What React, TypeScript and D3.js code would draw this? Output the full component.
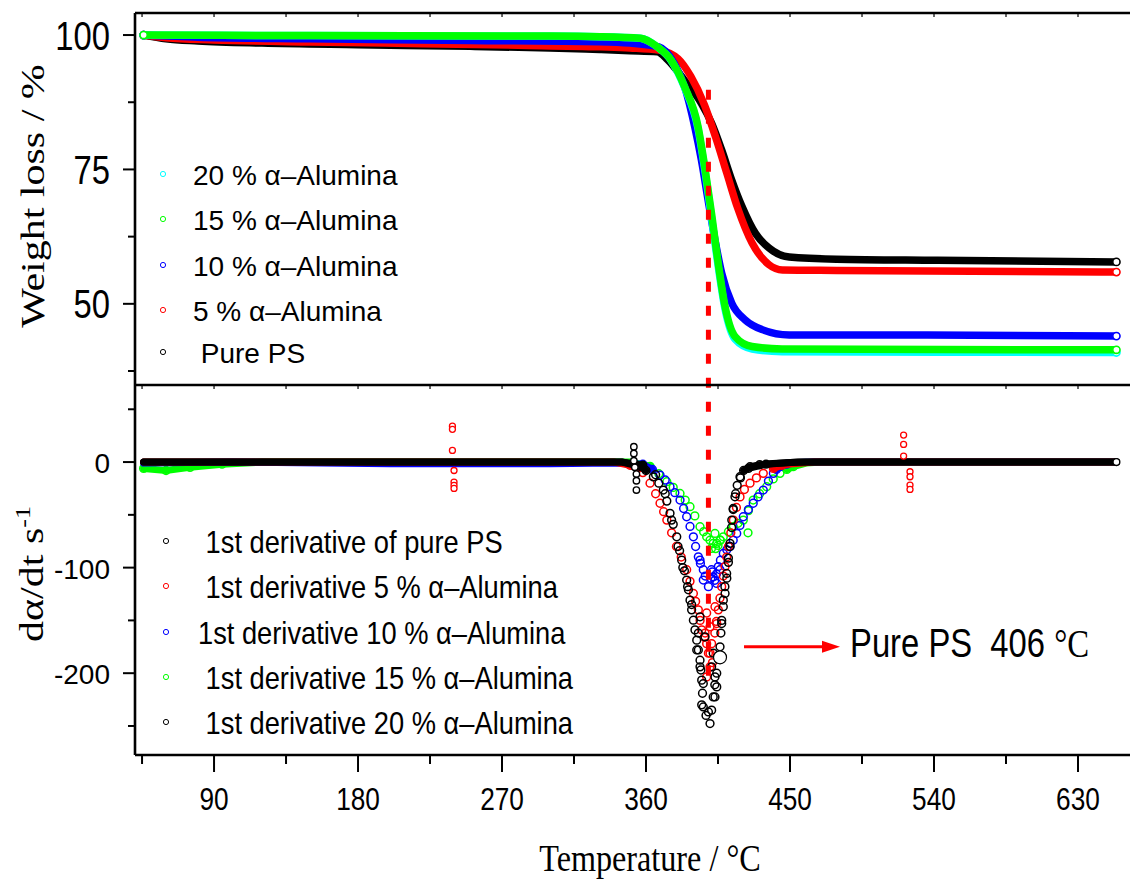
import React from 'react';
import * as d3 from 'd3';

type Pt = [number, number];

const SANS = "'Liberation Sans', Arial, sans-serif";
const SERIF = "'Liberation Serif', 'Times New Roman', serif";

// ticks
const xMajor = [90, 180, 270, 360, 450, 540, 630];
const xMinor = [45, 135, 225, 315, 405, 495, 585];
const topMajor = [100, 75, 50];
const topMinor = [87.5, 62.5, 37.5];
const botMajor = [0, -100, -200];
const botMinor = [50, -50, -150, -250];

// TGA curves: [temperature, weight %]
const tgaPure: Pt[] = [
  [46, 100], [60, 99.3], [80, 98.9], [120, 98.5], [180, 98.2], [250, 97.9], [300, 97.6], [331, 97.3],
  [350, 97.1], [367, 96.9], [373.5, 95.4], [384, 91.6], [394.6, 87.3], [401, 83.6], [407.3, 78.6],
  [413.6, 73.0], [420, 68.1], [428.4, 63.1], [436.8, 60.4], [449.5, 58.7], [479, 58.3], [542, 58.1], [654, 57.8],
];
const tga5: Pt[] = [
  [46, 100], [60, 99.5], [90, 99.1], [150, 98.7], [220, 98.4], [280, 98.1], [331, 97.8], [350, 97.6],
  [368, 97.2], [380, 95.6], [388, 92.3], [396.5, 87.0], [403.5, 81.0], [410.5, 74.3], [417.3, 67.8],
  [426.3, 61.3], [436.8, 57.3], [445.3, 56.3], [479, 56.2], [654, 55.9],
];
const tga10: Pt[] = [
  [46, 100], [80, 99.6], [150, 99.3], [250, 99.0], [331, 98.75], [350, 98.5], [368, 97.8], [377.7, 94.7],
  [384.1, 90.4], [390.4, 83.0], [394.6, 76.8], [398.8, 69.3], [403.1, 61.9], [407.3, 55.7], [413.6, 50.1],
  [422, 47.0], [432.6, 45.2], [449.5, 44.2], [521, 44.2], [654, 44.0],
];
const tga15: Pt[] = [
  [46, 100], [150, 99.9], [300, 99.8], [331, 99.7], [356.6, 99.4], [367, 97.8], [375.6, 95.4], [384.1, 90.4],
  [392.5, 83.0], [396.7, 75.5], [400.9, 66.9], [405.1, 57.6], [409.4, 49.5], [415.7, 43.9], [426.3, 42.05],
  [445, 41.6], [654, 41.45],
];
const tga20: Pt[] = [
  [46, 100], [150, 99.9], [300, 99.8], [331, 99.7], [356.6, 99.4], [367, 97.8], [375.6, 95.3], [384.1, 90.2],
  [392.5, 82.6], [396.7, 75.0], [400.9, 66.2], [405.1, 57.0], [409.4, 49.0], [415.7, 43.4], [426.3, 41.6],
  [445, 41.1], [654, 40.95],
];

// first derivative: [temperature, dα/dt]
const dPure: Pt[] = [
  [46, 0], [100, 0], [200, 0], [300, 0], [345, 0], [356, -4], [360, -8], [364.6, -14], [368, -20], [370.8, -26.5],
  [373, -37], [375, -48.6], [377, -59], [379.2, -70.8], [381, -84], [382.3, -92.9], [384, -103], [385.4, -111.8],
  [386.5, -121], [387.5, -130.8], [388.5, -140], [389.6, -149.8], [390.6, -159], [391.7, -168.7], [392.7, -178],
  [393.75, -187.7], [394.3, -197], [394.8, -206.6], [395.3, -219], [395.8, -232], [397.5, -240], [400, -247.7],
  [401, -235], [402, -222.5], [403, -211], [404.2, -200], [405.3, -187], [406.25, -175], [406.8, -162],
  [407.3, -150], [408.3, -130.8], [409.3, -118], [410.4, -105.5], [411.5, -91], [412.5, -77], [413.6, -55],
  [414.5, -44], [415.6, -32.9], [417, -22], [418.75, -13.9], [421, -8], [425, -4.4], [431, -2.5], [439.4, -1.3],
  [450, -0.5], [460, 0], [550, 0], [654, 0],
];
const d5: Pt[] = [
  [46, 0], [150, 0], [300, 0], [340, 0], [350, -3], [355, -6], [358, -10], [362.5, -20], [366, -30], [368.75, -39],
  [371, -47], [373, -55], [376, -67], [379, -80], [382, -90], [385.4, -102], [387.5, -113], [389.6, -124.5],
  [391, -132], [392.7, -140], [393.8, -150], [394.8, -159], [396.9, -162], [396.5, -166], [397.9, -172],
  [397.9, -143], [400, -156], [399, -181], [397.9, -203.5], [400, -194], [401, -172], [400, -181], [401.5, -190],
  [404.2, -153], [403, -162], [403.1, -137], [404, -151], [405.2, -140], [406.2, -129], [407.3, -118],
  [408.3, -108], [409.4, -99], [410.4, -90], [411.5, -80], [413, -67], [414.6, -55], [416.5, -43], [418.75, -33],
  [421.5, -26], [425, -20], [429, -15], [433.3, -10.7], [439.6, -6], [445, -3], [452, -1.5], [465, 0], [560, 0], [654, 0],
];
const d10: Pt[] = [
  [46, -1], [100, 0], [200, -1.5], [300, -1.5], [340, -1], [350, -1.5], [358, -2], [364, -7], [368.75, -12.3],
  [372, -17], [375, -23.4], [378, -29], [381.25, -36], [383.5, -44], [385.4, -51.8], [387.5, -61], [389.6, -70.8],
  [391, -80], [392.7, -89.8], [393.75, -92.9], [394, -96], [395.8, -102], [395.8, -111.8], [397, -108], [399, -118],
  [400.9, -102], [400.5, -110], [401.5, -104], [402, -108.7], [403, -112], [404.2, -115], [404, -106],
  [405.2, -99], [406.25, -102], [406.5, -93], [408.3, -86.6], [410.5, -83], [412.5, -80], [414.5, -74],
  [416.7, -67.6], [418.7, -60], [420.8, -51.8], [424, -45], [427, -39], [430, -33], [433.3, -26.5], [436.5, -18],
  [439.6, -10.7], [441.5, -7], [443.75, -4.4], [448, -2], [455, -0.5], [465, 0], [560, 0], [654, 0],
];
const d15: Pt[] = [
  [46, -6], [60, -8], [75, -5], [95, -2], [120, 0], [200, 0], [300, 0], [350, 0], [362.5, -4], [368, -11],
  [373, -18.6], [377, -24], [381.25, -29.7], [384.5, -36], [387.5, -42.3], [390.5, -51], [393.75, -61.3],
  [396, -66], [397.9, -70.8], [400, -74], [400.9, -81.8], [402, -77], [403.1, -67.6], [403.5, -82], [404.2, -77],
  [405, -79], [406.25, -74], [406.5, -74], [408.3, -70.8], [411.5, -66], [414.6, -61.3], [417.5, -58],
  [420.8, -55], [423.75, -67], [424, -46], [427, -36], [431, -30], [435.4, -23.4], [439.5, -16], [443.75, -10.7],
  [448, -7], [452, -4.4], [460, -1], [470, 0], [550, 0], [654, 0],
];
const d20: Pt[] = [
  [46, 0], [150, 0], [250, 0], [345, 0], [358, -3], [366, -12], [372, -30], [376, -55], [380, -80], [383, -100],
  [386, -118], [388.5, -135], [393.75, -146.6], [392.7, -162], [391.7, -178], [393.75, -194], [395.8, -209.8],
  [394.8, -230], [399, -236.7], [403.1, -222.5], [404.2, -213], [403.1, -203.5], [401, -194], [402, -181],
  [396.9, -165.6], [407.3, -153], [408.3, -137], [409.4, -124.5], [410.5, -110], [411.5, -95], [412.5, -80],
  [413.5, -62], [414.5, -45], [416, -30], [419, -15], [424, -6], [435, -2], [455, 0], [560, 0], [654, 0],
];

// isolated spikes in the derivative records
const redSpikes: Pt[] = [
  [239, 34], [239, 31], [239, 11], [240, -8], [240, -19], [240, -22], [240, -25],
  [521, 25.6], [521, 16.7], [521, 5.7], [525, -9.2], [525, -13.9], [525, -21.8], [525, -25.9],
];
const blackSpikes: Pt[] = [
  [352.4, 14.5], [352.4, 8.2], [352.4, 1.3], [353, -5], [354, -11.4], [354, -17.7], [354, -26.5],
];

const peakMark: Pt = [406.25, -185];
const dashT = 399;

const topLegend = ['20 % α–Alumina', '15 % α–Alumina', '10 % α–Alumina', '5 % α–Alumina', ' Pure PS'];
const topLegendColors = ['#00ffff', '#00ff00', '#0000ff', '#ff0000', '#000000'];
const botLegend = [
  ' 1st derivative of pure PS',
  ' 1st derivative 5 % α–Alumina',
  '1st derivative 10 % α–Alumina',
  ' 1st derivative 15 % α–Alumina',
  ' 1st derivative 20 % α–Alumina',
];
const botLegendColors = ['#000000', '#ff0000', '#0000ff', '#00ff00', '#000000'];

const x = d3.scaleLinear().domain([40.6, 662.5]).range([135, 1130]);
const yTop = d3.scaleLinear().domain([34.9, 104.1]).range([385, 13]);
const yBot = d3.scaleLinear().domain([-277.5, 73]).range([755, 385]);

const tgaLine = d3.line<Pt>().x(d => x(d[0])).y(d => yTop(d[1])).curve(d3.curveMonotoneX);
const bandLine = d3.line<Pt>().defined(d => Math.abs(d[1]) <= 8).x(d => x(d[0])).y(d => yBot(d[1]));

const tgaSeries = [
  { data: tgaPure, color: '#000000' },
  { data: tga5, color: '#ff0000' },
  { data: tga10, color: '#0000ff' },
  { data: tga20, color: '#00ffff' },
  { data: tga15, color: '#00ff00' },
];
const derivSeries = [
  { data: d15, color: '#00ff00' },
  { data: d10, color: '#0000ff' },
  { data: d5, color: '#ff0000' },
  { data: d20, color: '#000000' },
  { data: dPure, color: '#000000' },
];

const Txt = ({ x, y, sx = 1, size, family = SANS, anchor = 'start', fill = '#000', children }: any) => (
  <text
    transform={`translate(${x},${y}) scale(${sx},1)`}
    fontSize={size}
    fontFamily={family}
    textAnchor={anchor}
    fill={fill}
    style={{ whiteSpace: 'pre' }}
  >
    {children}
  </text>
);

export default function App() {
  const axisW = 2.6;
  const x0 = x.range()[0];
  const x1 = x.range()[1];
  const allX = [...xMajor, ...xMinor];
  return (
    <svg width={1130} height={882} style={{ position: 'absolute', left: 0, top: 0, background: '#fff' }}>
      {/* TGA curves */}
      {tgaSeries.map((s, i) => (
        <g key={'t' + i}>
          <path d={tgaLine(s.data) || ''} fill="none" stroke={s.color} strokeWidth={7.5} strokeLinecap="round" strokeLinejoin="round" />
          {[s.data[0], s.data[s.data.length - 1]].map((d, j) => (
            <circle key={j} cx={x(d[0])} cy={yTop(d[1])} r={3.6} fill="#fff" stroke={s.color} strokeWidth={1.6} />
          ))}
        </g>
      ))}

      {/* derivative curves: baseline band + open circles off the baseline */}
      {derivSeries.map((s, i) => (
        <g key={'d' + i}>
          <path d={bandLine(s.data) || ''} fill="none" stroke={s.color} strokeWidth={7} strokeLinecap="round" />
          {s.data.filter(d => Math.abs(d[1]) > 1.6).map((d, j) => (
            <circle key={j} cx={x(d[0])} cy={yBot(d[1])} r={3.9} fill="none" stroke={s.color} strokeWidth={1.5} />
          ))}
        </g>
      ))}
      {redSpikes.map((d, j) => (
        <circle key={'rs' + j} cx={x(d[0])} cy={yBot(d[1])} r={3} fill="#fff" stroke="#ff0000" strokeWidth={1.3} />
      ))}
      {blackSpikes.map((d, j) => (
        <circle key={'bs' + j} cx={x(d[0])} cy={yBot(d[1])} r={3.2} fill="#fff" stroke="#000" strokeWidth={1.4} />
      ))}
      <circle cx={x(dPure[dPure.length - 1][0])} cy={yBot(0)} r={3.4} fill="#fff" stroke="#000" strokeWidth={1.4} />
      <circle cx={x(peakMark[0])} cy={yBot(peakMark[1])} r={6.5} fill="#fff" stroke="#000" strokeWidth={1.2} />

      {/* red dashed marker */}
      <line
        x1={x(dashT)} x2={x(dashT)} y1={yTop(89.8)} y2={yBot(-209)}
        stroke="#ff0000" strokeWidth={5} strokeDasharray="10 14"
      />

      {/* frame */}
      <line x1={x0} x2={x0} y1={13} y2={755} stroke="#000" strokeWidth={axisW} />
      <line x1={x0} x2={x1} y1={13} y2={13} stroke="#000" strokeWidth={axisW} />
      <line x1={x0} x2={x1} y1={385} y2={385} stroke="#000" strokeWidth={axisW} />
      <line x1={x0} x2={x1} y1={755} y2={755} stroke="#000" strokeWidth={axisW} />
      {allX.map(t => (
        <g key={'tt' + t}>
          <line x1={x(t)} x2={x(t)} y1={13} y2={17} stroke="#000" strokeWidth={1.2} />
          <line x1={x(t)} x2={x(t)} y1={385} y2={389} stroke="#000" strokeWidth={1.2} />
        </g>
      ))}

      {/* x axis */}
      {xMajor.map(t => (
        <g key={'xm' + t}>
          <line x1={x(t)} x2={x(t)} y1={755} y2={772} stroke="#000" strokeWidth={2} />
          <Txt x={x(t)} y={810} sx={0.82} size={32} anchor="middle">{t}</Txt>
        </g>
      ))}
      {xMinor.map(t => (
        <line key={'xn' + t} x1={x(t)} x2={x(t)} y1={755} y2={764} stroke="#000" strokeWidth={2} />
      ))}
      <Txt x={650} y={871} sx={0.87} size={37} family={SERIF} anchor="middle">Temperature / °C</Txt>

      {/* top y axis */}
      {topMajor.map(v => (
        <g key={'ym' + v}>
          <line x1={x0 - 12} x2={x0} y1={yTop(v)} y2={yTop(v)} stroke="#000" strokeWidth={2} />
          <Txt x={110} y={yTop(v) + 14.5} sx={0.82} size={40} anchor="end">{v}</Txt>
        </g>
      ))}
      {topMinor.map(v => (
        <line key={'yn' + v} x1={x0 - 7} x2={x0} y1={yTop(v)} y2={yTop(v)} stroke="#000" strokeWidth={2} />
      ))}
      <text transform="translate(44,196) rotate(-90) scale(1,0.82)" textAnchor="middle" fontFamily={SERIF} fontSize={42}>
        Weight loss / %
      </text>

      {/* bottom y axis */}
      {botMajor.map(v => (
        <g key={'bm' + v}>
          <line x1={x0 - 12} x2={x0} y1={yBot(v)} y2={yBot(v)} stroke="#000" strokeWidth={2} />
          <Txt x={110} y={yBot(v) + 11} size={28} anchor="end">{v}</Txt>
        </g>
      ))}
      {botMinor.map(v => (
        <line key={'bn' + v} x1={x0 - 7} x2={x0} y1={yBot(v)} y2={yBot(v)} stroke="#000" strokeWidth={2} />
      ))}
      <text transform="translate(43,574) rotate(-90) scale(1,0.82)" textAnchor="middle" fontFamily={SERIF} fontSize={42}>
        dα/dt s<tspan dy={-16} fontSize={26}>-1</tspan>
      </text>

      {/* legends */}
      {topLegend.map((l, i) => {
        const cy = [174, 219, 265, 310, 352][i];
        return (
          <g key={'tl' + i}>
            <circle cx={163} cy={cy} r={2.6} fill="#fff" stroke={topLegendColors[i]} strokeWidth={1} />
            <Txt x={193} y={cy + 11} size={28}>{l}</Txt>
          </g>
        );
      })}
      {botLegend.map((l, i) => {
        const cy = [541, 586, 632, 677, 722][i];
        return (
          <g key={'bl' + i}>
            <circle cx={166} cy={cy} r={2.6} fill="#fff" stroke={botLegendColors[i]} strokeWidth={1} />
            <Txt x={198} y={cy + 12} sx={0.88} size={31}>{l}</Txt>
          </g>
        );
      })}

      {/* annotation */}
      <line x1={x(421.25)} x2={x(474)} y1={yBot(-175)} y2={yBot(-175)} stroke="#ff0000" strokeWidth={3} />
      <path
        d={`M${x(481.25)},${yBot(-175)} L${x(470)},${yBot(-175) - 6} L${x(470)},${yBot(-175) + 6} Z`}
        fill="#ff0000"
      />
      <Txt x={x(487.5)} y={657} sx={0.82} size={40}>
        {'Pure PS  406 '}
        <tspan fontFamily={SERIF}>°C</tspan>
      </Txt>
    </svg>
  );
}
